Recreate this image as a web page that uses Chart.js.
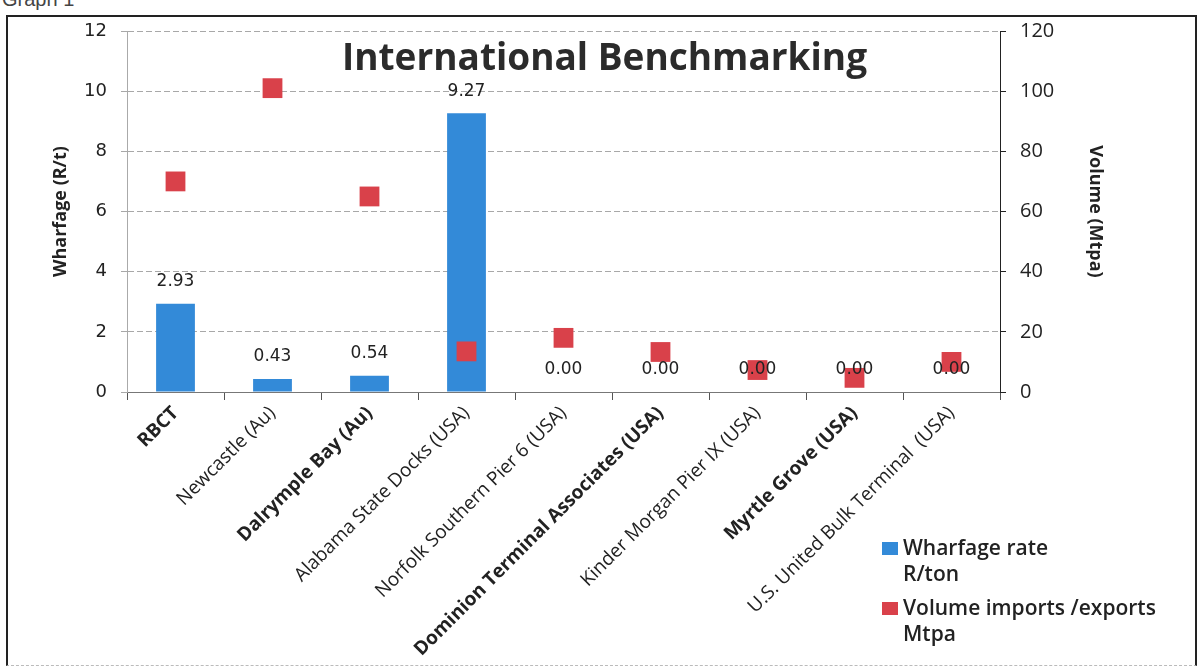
<!DOCTYPE html>
<html>
<head>
<meta charset="utf-8">
<script src="https://cdn.jsdelivr.net/npm/chart.js@4.4.1/dist/chart.umd.min.js"></script>
<style>
    body { margin: 0; background: #fff; overflow: hidden; }
    #wrap { position: relative; width: 1201px; height: 671px; }
    #frame { position: absolute; left: 6px; top: 15px; width: 1187px; height: 648px;
             border: 2px solid #222; border-bottom: 1px dashed #bbb; }
    #graphLabel { position: absolute; left: 2px; top: -12px; font: 20px Arial, sans-serif; color: #444; }
    #title { position: absolute; left: 0; width: 1201px; top: 30px; text-align: center;
             font: 700 37px "Open Sans", sans-serif; color: #2b2b2b; padding-left: 4px; }
    canvas { position: absolute; left: 0; top: 0; }
    #legend { position: absolute; left: 882px; top: 534px; font: 600 21px "Open Sans", sans-serif; color: #222; }
    .item { display: flex; align-items: flex-start; margin-bottom: 8px; }
    .swatch { width: 16px; height: 13px; margin: 8px 5px 0 0; flex: none; }
    .txt { line-height: 26px; }
</style>
</head>
<body>
<div id="wrap">
    <div id="graphLabel">Graph 1</div>
    <div id="frame"></div>
    <canvas id="benchChart" width="1201" height="671"></canvas>
    <div id="title">International Benchmarking</div>
    <div id="legend">
        <div class="item"><div class="swatch" style="background:#338ad8"></div><div class="txt">Wharfage rate<br>R/ton</div></div>
        <div class="item"><div class="swatch" style="background:#d9414a"></div><div class="txt">Volume imports /exports<br>Mtpa</div></div>
    </div>
</div>
<script>
// Data
const terminals = ['RBCT', 'Newcastle (Au)', 'Dalrymple Bay (Au)', 'Alabama State Docks (USA)',
    'Norfolk Southern Pier 6 (USA)', 'Dominion Terminal Associates (USA)', 'Kinder Morgan Pier IX (USA)',
    'Myrtle Grove (USA)', 'U.S. United Bulk Terminal  (USA)'];
const wharfageRates = [2.93, 0.43, 0.54, 9.27, 0, 0, 0, 0, 0];
const volumes = [70, 101, 65, 13.5, 18, 13.3, 7.3, 4.7, 10];
const boldTerminals = ['RBCT', 'Dalrymple Bay (Au)', 'Dominion Terminal Associates (USA)', 'Myrtle Grove (USA)'];

const BLUE = '#338ad8';
const RED = '#d9414a';

// Draws the value labels above the bars
const barLabels = {
    id: 'barLabels',
    afterDatasetsDraw(chart) {
        const ctx = chart.ctx;
        const meta = chart.getDatasetMeta(1);
        ctx.save();
        ctx.font = '17px "DejaVu Sans", sans-serif';
        ctx.fillStyle = '#222';
        ctx.textAlign = 'center';
        ctx.textBaseline = 'middle';
        meta.data.forEach((bar, i) => {
            ctx.fillText(wharfageRates[i].toFixed(2), bar.x, bar.y - 22);
        });
        ctx.restore();
    }
};

new Chart(document.getElementById('benchChart'), {
    data: {
        labels: terminals,
        datasets: [
            {
                type: 'line',
                label: 'Volume imports /exports Mtpa',
                data: volumes,
                yAxisID: 'y1',
                showLine: false,
                pointStyle: 'rect',
                pointRadius: 14,
                pointHoverRadius: 14,
                backgroundColor: RED,
                borderColor: RED,
                borderWidth: 0,
                order: 1
            },
            {
                type: 'bar',
                label: 'Wharfage rate R/ton',
                data: wharfageRates,
                yAxisID: 'y',
                backgroundColor: BLUE,
                categoryPercentage: 1,
                barPercentage: 0.4,
                order: 2
            }
        ]
    },
    options: {
        responsive: false,
        animation: false,
        layout: { padding: { top: 31, left: 50, right: 95, bottom: 0 } },
        plugins: {
            legend: { display: false },
            tooltip: { enabled: false }
        },
        scales: {
            x: {
                offset: true,
                grid: { offset: true, drawOnChartArea: false, tickLength: 8, color: '#555' },
                border: { color: '#777' },
                ticks: {
                    autoSkip: false,
                    minRotation: 45,
                    maxRotation: 45,
                    padding: 2,
                    color: '#222',
                    font: c => ({
                        family: 'Open Sans',
                        size: 19,
                        weight: boldTerminals.includes(terminals[c.index]) ? '700' : '500'
                    })
                },
                afterFit: s => { s.height = 279; }
            },
            y: {
                position: 'left',
                min: 0,
                max: 12,
                ticks: { stepSize: 2, padding: 14, color: '#222', font: { family: 'DejaVu Sans', size: 18 } },
                grid: { color: '#a8a8a8', tickLength: 6 },
                border: { color: '#aaa', dash: [6, 3] },
                title: { display: true, text: 'Wharfage (R/t)', color: '#222', font: { family: 'Open Sans', size: 18, weight: 'bold' }, padding: 0 },
                afterFit: s => { s.width = 127 - 50; }
            },
            y1: {
                position: 'right',
                min: 0,
                max: 120,
                ticks: { stepSize: 20, padding: 14, color: '#222', font: { family: 'Open Sans', size: 20, weight: '500' } },
                grid: { drawOnChartArea: false, tickLength: 6, color: '#222' },
                border: { color: '#222' },
                title: { display: true, text: 'Volume (Mtpa)', color: '#222', font: { family: 'Open Sans', size: 18, weight: 'bold' }, padding: 0 },
                afterFit: s => { s.width = 1201 - 95 - 1000; }
            }
        }
    },
    plugins: [barLabels]
});
</script>
</body>
</html>
